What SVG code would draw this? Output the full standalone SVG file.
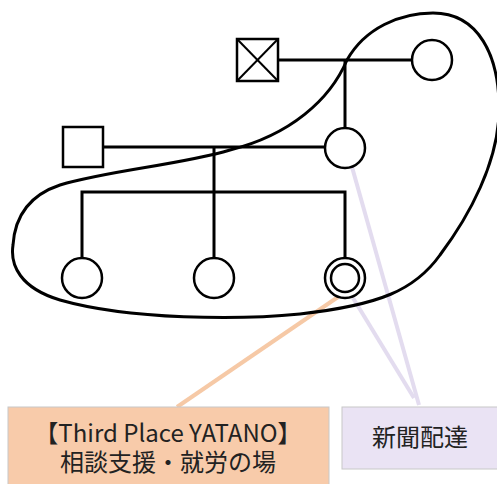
<svg xmlns="http://www.w3.org/2000/svg" width="497" height="484" viewBox="0 0 497 484">
<style>
.ln{stroke:#000;stroke-width:3;fill:none}
.nd{stroke:#000;stroke-width:2.5;fill:#fff}
.lbl{font-family:"Noto Sans CJK JP","Noto Sans",sans-serif;font-size:24px;fill:#222;text-anchor:middle}
</style>
<rect width="497" height="484" fill="#fff"/>
<g id="connectors">
<line class="ln" x1="278" y1="60" x2="412" y2="60"/>
<line class="ln" x1="345" y1="60" x2="345" y2="128"/>
<line class="ln" x1="103" y1="147" x2="325" y2="147"/>
<line class="ln" x1="214" y1="147" x2="214" y2="258"/>
<polyline class="ln" points="82,258 82,192 345,192 345,258"/>
<line stroke="#e3dcef" stroke-width="4" x1="352" y1="167" x2="419" y2="405"/>
<line stroke="#e3dcef" stroke-width="4" x1="353" y1="298" x2="414" y2="398"/>
<line stroke="#f6c9a6" stroke-width="4" x1="338" y1="297" x2="177" y2="407"/>
</g>
<g id="household">
<path class="ln" d="M347 60 C365 28 400 13 433 13 C478 13 500 55 499 112 C498 162 470 215 440 255 C415 290 380 305 300 314 C240 320 130 320 60 300 C20 288 10 265 13 245 C15 215 30 195 60 185 C110 170 180 165 230 150 C290 135 330 100 347 60 Z"/>
</g>
<g id="grandfather">
<rect class="nd" x="237" y="39" width="41" height="42"/>
<line stroke="#000" stroke-width="2" x1="237" y1="39" x2="278" y2="81"/>
<line stroke="#000" stroke-width="2" x1="278" y1="39" x2="237" y2="81"/>
</g>
<g id="grandmother"><circle class="nd" cx="432" cy="60" r="20"/></g>
<g id="father"><rect class="nd" x="63" y="127" width="40" height="40"/></g>
<g id="mother"><circle class="nd" cx="345" cy="148" r="20"/></g>
<g id="child1"><circle class="nd" cx="82" cy="278" r="20"/></g>
<g id="child2"><circle class="nd" cx="214" cy="278" r="20"/></g>
<g id="child3"><circle class="nd" cx="345" cy="278" r="20"/><circle class="nd" cx="345" cy="278" r="14"/></g>
<g id="yatano">
<rect x="8" y="407" width="321" height="90" fill="#f8cbaa" stroke="#c8c8c8" stroke-width="1"/>
<text class="lbl"><tspan x="168" y="442">【Third Place YATANO】</tspan><tspan x="168" y="471">相談支援・就労の場</tspan></text>
</g>
<g id="newspaper">
<rect x="342" y="407" width="160" height="62" fill="#eae3f4" stroke="#c8c8c8" stroke-width="1"/>
<text class="lbl" x="420" y="446">新聞配達</text>
</g>
</svg>
